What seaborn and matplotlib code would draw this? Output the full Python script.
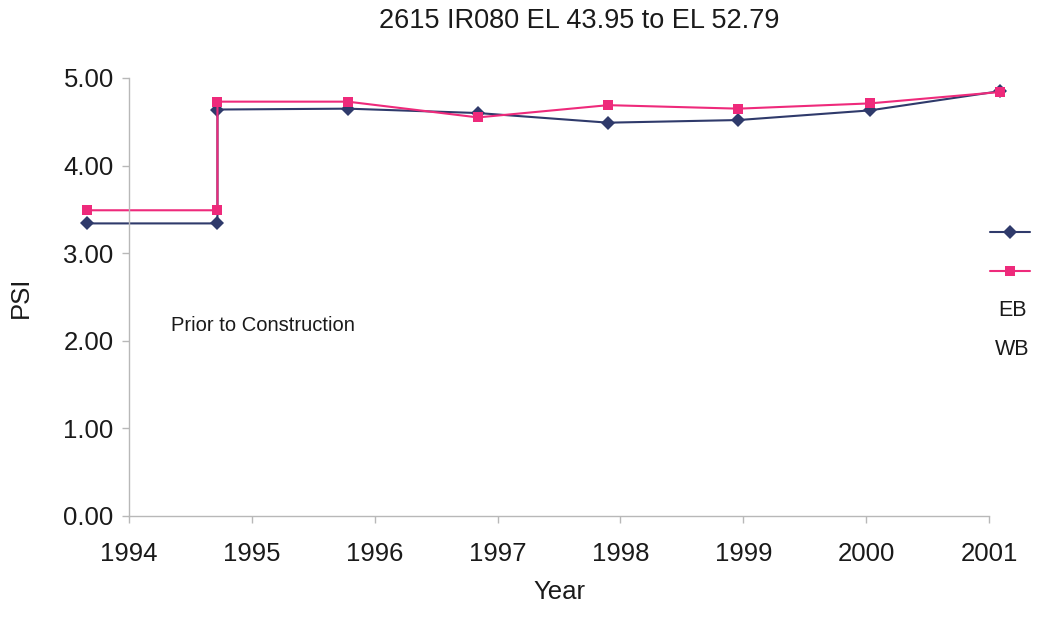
"""
PSI history for 2615 IR080, EL 43.95 to EL 52.79 (EB / WB lanes).
"""

import pandas as pd
import matplotlib.pyplot as plt
import seaborn as sns
from matplotlib.lines import Line2D

# ---------------------------------------------------------------------------
# Data. First pair is the pre-construction value,
# repeated at the construction date so the step shows.
# ---------------------------------------------------------------------------
survey_year = [1993.66, 1994.72, 1994.72, 1995.78, 1996.84,
               1997.90, 1998.96, 2000.03, 2001.09]
psi_eb = [3.34, 3.34, 4.64, 4.65, 4.60, 4.49, 4.52, 4.63, 4.85]
psi_wb = [3.49, 3.49, 4.73, 4.73, 4.55, 4.69, 4.65, 4.71, 4.84]
year_ticks = [1994, 1995, 1996, 1997, 1998, 1999, 2000, 2001]
psi_ticks = [0, 1, 2, 3, 4, 5]

NAVY = "#2f3a6b"
PINK = "#ee2a7b"
TXT = "#1a1a1a"

df = pd.DataFrame({"Year": survey_year, "EB": psi_eb, "WB": psi_wb})
long = df.melt(id_vars=["Year"], value_vars=["EB", "WB"],
               var_name="Lane", value_name="PSI")

# ---------------------------------------------------------------------------
# Plot
# ---------------------------------------------------------------------------
sns.set_style("white")
plt.rcParams["font.family"] = ["Liberation Sans", "DejaVu Sans"]

fig = plt.figure(figsize=(10.42, 6.21), dpi=100)
ax = fig.add_axes([0.1238, 0.1691, 0.8253, 0.7053])

sns.lineplot(
    data=long, x="Year", y="PSI", hue="Lane", style="Lane",
    palette={"EB": NAVY, "WB": PINK},
    markers={"EB": "D", "WB": "s"}, dashes=False,
    estimator=None, sort=False, units="Lane",
    linewidth=1.5, markersize=7.5, markeredgewidth=0,
    clip_on=False, legend=False, ax=ax,
)

ax.set_xlim(1994, 2001)
ax.set_ylim(0, 5)
ax.set_xticks(year_ticks)
ax.set_xticklabels([str(y) for y in year_ticks])
ax.set_yticks(psi_ticks)
ax.set_yticklabels([f"{v:.2f}" for v in psi_ticks])

for side in ["top", "right"]:
    ax.spines[side].set_visible(False)
for side in ["left", "bottom"]:
    ax.spines[side].set_color("#b8b8b8")
    ax.spines[side].set_linewidth(1.0)
# seaborn's white style hides tick marks; the source chart has short ones
ax.tick_params(axis="both", which="major", direction="out", length=5,
               width=1.0, color="#b8b8b8", labelsize=18.5, labelcolor=TXT,
               bottom=True, left=True)
ax.tick_params(axis="x", pad=14)
ax.tick_params(axis="y", pad=6)

ax.set_xlabel("Year", fontsize=18.5, color=TXT, labelpad=10)
ax.set_ylabel("PSI", fontsize=18.5, color=TXT)
ax.yaxis.set_label_coords(-0.112, 0.5)
ax.set_title("2615 IR080 EL 43.95 to EL 52.79", fontsize=19.5,
             color=TXT, pad=36, x=0.523)

ax.text(1994.34, 2.17, "Prior to Construction", fontsize=14.5,
        color=TXT, va="center", ha="left")

# Legend keys sit apart from their labels, as in the source sheet.
for y, col, mk in [(232, NAVY, "D"), (271, PINK, "s")]:
    yf = 1 - y / 621
    fig.add_artist(Line2D([990 / 1042, 1030 / 1042], [yf, yf],
                          transform=fig.transFigure, color=col, lw=1.5))
    fig.add_artist(Line2D([1010 / 1042], [yf], transform=fig.transFigure,
                          color=col, marker=mk, markersize=7,
                          markeredgewidth=0))
for y, lab in [(310, "EB"), (350, "WB")]:
    fig.text(1012 / 1042, 1 - y / 621, lab, fontsize=15.5,
             color=TXT, ha="center", va="center")

fig.savefig("out.png", dpi=100)
